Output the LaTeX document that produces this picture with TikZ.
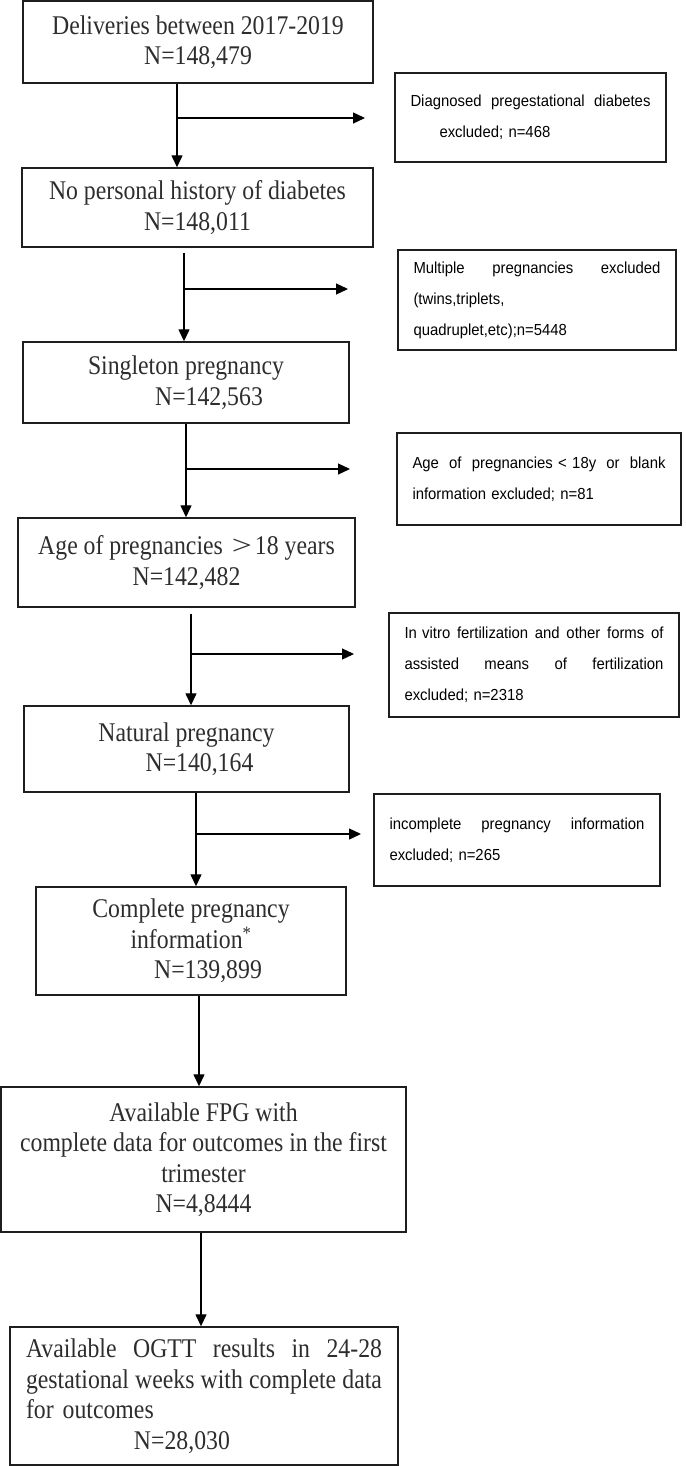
\documentclass[tikz,border=0pt]{standalone}
\usepackage{fontspec}
\usepackage{graphicx}
\usepackage{tikz}
\usetikzlibrary{arrows.meta,positioning}
\newfontfamily\boxfont[FakeStretch=0.88]{Liberation Serif}
\newfontfamily\notefont[FakeStretch=0.93]{Liberation Sans}
\definecolor{boxline}{RGB}{30,30,30}
\definecolor{boxtext}{RGB}{45,45,45}
\frenchspacing
\tikzset{
 stagebox/.style={
 rectangle,
 draw=boxline,
 line width=1.4pt,
 align=center,
 inner sep=0pt,
 text=boxtext,
 font=\boxfont\fontsize{27}{30.5}\selectfont
 },
 exclbox/.style={
 rectangle,
 draw=boxline,
 line width=1.4pt,
 align=left,
 inner xsep=15.5pt,
 inner ysep=0pt,
 text=black,
 font=\notefont\fontsize{16}{31}\selectfont
 },
 flowarrow/.style={-{Triangle[length=12pt,width=11pt]}, line width=1.3pt, draw=black}
}
\begin{document}
\begin{tikzpicture}[x=1pt,y=-1pt]
 \useasboundingbox (0,0) rectangle (685,1466);

 \node[stagebox, minimum width=350pt, minimum height=82pt] (deliv) at (198,42) {Deliveries between 2017-2019\\N=148,479};
 \node[stagebox, minimum width=351pt, minimum height=79pt] (nohist) at (197.5,207.5) {No personal history of diabetes\\N=148,011};
 \node[stagebox, minimum width=326pt, minimum height=81pt] (single) at (186,382.5) {Singleton pregnancy\\\hspace*{46pt}N=142,563};
 \node[stagebox, minimum width=337pt, minimum height=89pt] (adult) at (186.5,562.5) {Age of pregnancies\hspace{6pt}\makebox[26pt]{\scalebox{1.5}[1]{>}}18 years\\N=142,482};
 \node[stagebox, minimum width=325pt, minimum height=86pt] (natural) at (186.5,749) {Natural pregnancy\\\hspace*{26pt}N=140,164};
 \node[stagebox, minimum width=310pt, minimum height=108pt] (complete) at (191,941) {Complete pregnancy\\information\textsuperscript{*}\\\hspace*{34pt}N=139,899};
 \node[stagebox, minimum width=405pt, minimum height=145pt] (fpg) at (203.5,1159.5) {Available FPG with\\complete data for outcomes in the first\\trimester\\N=4,8444};
 \node[stagebox, align=left, text width=356pt, minimum width=388pt, minimum height=138pt] (ogtt) at (204,1396) {Available\hfill OGTT\hfill results\hfill in\hfill 24-28\\gestational\hfill weeks\hfill with\hfill complete\hfill data\\\mbox{for outcomes}\hfill\null\\\hspace*{108pt}N=28,030};

 \node[exclbox, text width=240pt, minimum height=89pt] (pregdm) at (530.5,117.5) {Diagnosed\hfill pregestational\hfill diabetes\\\hspace*{29pt}excluded; n=468};
 \node[exclbox, text width=247pt, minimum height=100pt] (multi) at (537,300) {Multiple\hfill pregnancies\hfill excluded\\(twins,triplets,\\quadruplet,etc);n=5448};
 \node[exclbox, text width=253pt, minimum height=92pt] (young) at (539,479) {Age\hfill of\hfill pregnancies < 18y\hfill or\hfill blank\\information excluded; n=81};
 \node[exclbox, text width=259pt, minimum height=104pt] (ivf) at (534,665) {In vitro\hfill fertilization\hfill and\hfill other\hfill forms\hfill of\\assisted\hfill means\hfill of\hfill fertilization\\excluded; n=2318};
 \node[exclbox, text width=255pt, minimum height=92pt] (incompl) at (517,840) {incomplete\hfill pregnancy\hfill information\\excluded; n=265};

 \coordinate (b1) at (177,118);
 \coordinate (e1) at (365,118);
 \coordinate (b2) at (184,289);
 \coordinate (e2) at (348,289);
 \coordinate (b3) at (186,469);
 \coordinate (e3) at (350,469);
 \coordinate (b4) at (191,654);
 \coordinate (e4) at (354,654);
 \coordinate (b5) at (196,834);
 \coordinate (e5) at (361,834);
 \coordinate (b6) at (199,1040);
 \coordinate (b7) at (201,1280);

 \draw[flowarrow] (deliv.south -| b1) -- (nohist.north -| b1);
 \draw[flowarrow] ([yshift=-5pt]nohist.south -| b2) -- (single.north -| b2);
 \draw[flowarrow] (single.south -| b3) -- (adult.north -| b3);
 \draw[flowarrow] ([yshift=-6pt]adult.south -| b4) -- (natural.north -| b4);
 \draw[flowarrow] (natural.south -| b5) -- (complete.north -| b5);
 \draw[flowarrow] (complete.south -| b6) -- (fpg.north -| b6);
 \draw[flowarrow] (fpg.south -| b7) -- (ogtt.north -| b7);

 \draw[flowarrow] (b1) -- (e1);
 \draw[flowarrow] (b2) -- (e2);
 \draw[flowarrow] (b3) -- (e3);
 \draw[flowarrow] (b4) -- (e4);
 \draw[flowarrow] (b5) -- (e5);
\end{tikzpicture}
\end{document}
